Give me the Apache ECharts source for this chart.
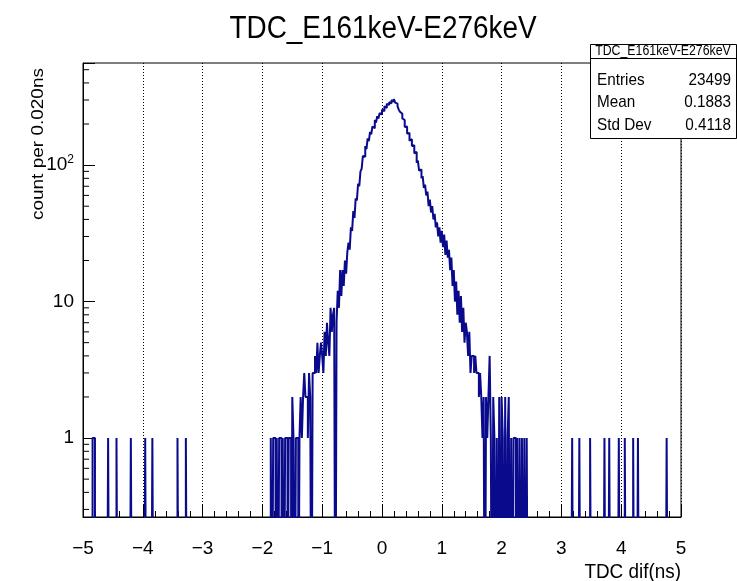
<!DOCTYPE html>
<html><head><meta charset="utf-8">
<script src="https://cdn.jsdelivr.net/npm/echarts@6/dist/echarts.min.js"></script>
<style>html,body{margin:0;padding:0;background:#fff}#c{width:737px;height:581px}</style>
</head><body><div id="c"></div>
<script>
// ---------------- data ----------------
const chartTitle = 'TDC_E161keV-E276keV';
const xTitle = 'TDC dif(ns)';
const yTitle = 'count per 0.020ns';
const xRange = [-5, 5];
const binWidth = 0.02;
const nBins = 500;
// isolated bins holding a single count
const leftTailBins = [8, 9, 21, 28, 40, 52, 58, 79, 86];
const rightTailBins = [409, 415, 424, 436, 440, 448, 453, 460, 464, 488];
// contiguous core of the distribution, starting at bin 155
const coreStartBin = 155;
const coreCounts = [
  0,0,1,0,1,1,0,1,0,1,
  1,0,1,0,1,1,0,1,1,0,
  2,1,0,1,1,0,1,2,1,2,
  3,2,2,1,3,2,0,3,3,4,
  3,5,3,4,5,4,3,6,4,7,
  5,4,9,6,8,9,0,7,12,9,
  17,11,17,13,20,16,23,27,24,35,
  33,46,41,57,55,73,70,90,94,117,
  115,138,131,157,150,175,168,192,186,214,
  205,228,219,240,236,255,248,270,262,281,
  276,289,284,300,292,305,287,282,270,255,
  246,238,220,214,190,192,170,172,151,155,
  138,140,122,125,104,108,91,93,80,83,
  68,72,60,64,50,56,45,50,40,44,
  35,38,30,35,27,33,25,31,22,28,
  21,24,17,21,13,17,10,14,8,12,
  7,11,6,9,5,7,6,4,6,3,
  4,4,3,4,3,3,2,3,2,1,
  2,0,2,1,2,4,1,0,2,1,
  0,1,0,2,0,2,1,0,2,0,
  1,2,0,1,0,1,1,0,1,0,
  1,0,1,0,1,0,1,0
];
const statsHeader = 'TDC_E161keV-E276keV';
const statsLabels = ['Entries', 'Mean', 'Std Dev'];
const statsValues = ['23499', '0.1883', '0.4118'];
const yRange = [0.264, 560];

// ---------------- build histogram ----------------
const counts = new Array(nBins).fill(0);
leftTailBins.forEach(b => { counts[b] = 1; });
rightTailBins.forEach(b => { counts[b] = 1; });
coreCounts.forEach((c, k) => { counts[coreStartBin + k] = c; });

const FLOOR = 0.01; // empty bins drop below the axis minimum and are clipped
const stepData = [];
for (let i = 0; i < nBins; i++) {
  const lo = xRange[0] + i * binWidth;
  stepData.push([+lo.toFixed(4), counts[i] > 0 ? counts[i] : FLOOR]);
}
stepData.push([xRange[1], counts[nBins - 1] > 0 ? counts[nBins - 1] : FLOOR]);

const FONT = 'Liberation Sans, Arial, Helvetica, sans-serif';
const chart = echarts.init(document.getElementById('c'), null, {renderer: 'canvas'});

const option = {
  animation: false,
  backgroundColor: '#ffffff',
  grid: {left: 83, top: 63, width: 598, height: 454, show: true, borderColor: '#000', borderWidth: 1, backgroundColor: 'transparent', containLabel: false},
  xAxis: {
    type: 'value', min: xRange[0], max: xRange[1], interval: 1,
    axisLine: {show: true, onZero: false, lineStyle: {color: '#000', width: 1}},
    axisTick: {show: true, inside: true, length: 12, lineStyle: {color: '#000', width: 1}},
    minorTick: {show: true, splitNumber: 5, length: 6, lineStyle: {color: '#000', width: 1}},
    axisLabel: {color: '#000', fontSize: 19, fontFamily: FONT, margin: 22,
      formatter: v => (v < 0 ? '\u2212' + Math.abs(v) : String(v))},
    splitLine: {show: true, lineStyle: {color: '#000', width: 1, type: [1, 2]}}
  },
  yAxis: {
    type: 'log', logBase: 10, min: yRange[0], max: yRange[1],
    axisLine: {show: true, onZero: false, lineStyle: {color: '#000', width: 1}},
    axisTick: {show: true, inside: true, length: 12, lineStyle: {color: '#000', width: 1}},
    splitLine: {show: false},
    axisLabel: {
      color: '#000', fontSize: 19, fontFamily: FONT, margin: 9,
      formatter: v => {
        const l = Math.log10(v);
        const r = Math.round(l);
        if (Math.abs(l - r) > 1e-6 || r < 0) return '';
        if (r === 0) return '1';
        if (r === 1) return '10';
        return '{b|10}{s|' + r + '}';
      },
      rich: {
        b: {fontSize: 19, fontFamily: FONT, color: '#000'},
        s: {fontSize: 12, fontFamily: FONT, color: '#000', verticalAlign: 'top', padding: [0, 0, 10, 0]}
      }
    }
  },
  series: [{
    type: 'line', step: 'end', data: stepData, showSymbol: false, symbol: 'none',
    clip: true, lineStyle: {color: '#0a0a8c', width: 2}, z: 3
  }]
};
chart.setOption(option);

// minor ticks of the log axis (2..9 per decade), positioned via the axis scale
const minorVals = [];
for (let d = -1; d <= 2; d++) {
  for (let m = 2; m <= 9; m++) {
    const v = m * Math.pow(10, d);
    if (v > yRange[0] && v < yRange[1]) minorVals.push(v);
  }
}
const x0 = chart.convertToPixel({xAxisIndex: 0}, xRange[0]);
const graphics = minorVals.map(v => {
  const y = chart.convertToPixel({yAxisIndex: 0}, v);
  return {type: 'line', z: 50, silent: true, shape: {x1: x0, y1: y, x2: x0 + 6, y2: y}, style: {stroke: '#000', lineWidth: 1}};
});

function txt(text, x, y, size, align, vAlign, extra) {
  return Object.assign({
    type: 'text', x: x, y: y, z: 120, silent: true,
    style: {text: text, fill: '#000', font: size + 'px ' + FONT, fontSize: size, fontFamily: FONT,
      align: align, verticalAlign: vAlign, textAlign: align, textVerticalAlign: vAlign}
  }, extra || {});
}

// title
graphics.push(txt(chartTitle, 383, 29, 31, 'center', 'middle', {scaleX: 0.9}));
// axis titles
graphics.push(txt(xTitle, 681, 572, 21, 'right', 'middle', {scaleX: 0.9}));
graphics.push(txt(yTitle, 38, 68, 19, 'right', 'middle', {rotation: Math.PI / 2, scaleY: 0.9}));
// stats box
graphics.push({type: 'rect', z: 110, silent: true, shape: {x: 590.5, y: 44.5, width: 146, height: 94},
  style: {fill: '#fff', stroke: '#000', lineWidth: 1}});
graphics.push({type: 'line', z: 111, silent: true, shape: {x1: 590.5, y1: 58.5, x2: 736.5, y2: 58.5},
  style: {stroke: '#000', lineWidth: 1}});
graphics.push(txt(statsHeader, 663, 51.5, 14, 'center', 'middle', {scaleX: 0.88}));
const rowY = [80, 102.5, 125];
statsLabels.forEach((s, k) => {
  graphics.push(txt(s, 597, rowY[k], 17, 'left', 'middle', {scaleX: 0.9}));
  graphics.push(txt(statsValues[k], 731, rowY[k], 17, 'right', 'middle', {scaleX: 0.9}));
});
chart.setOption({graphic: {elements: graphics}});
</script>
</body></html>
